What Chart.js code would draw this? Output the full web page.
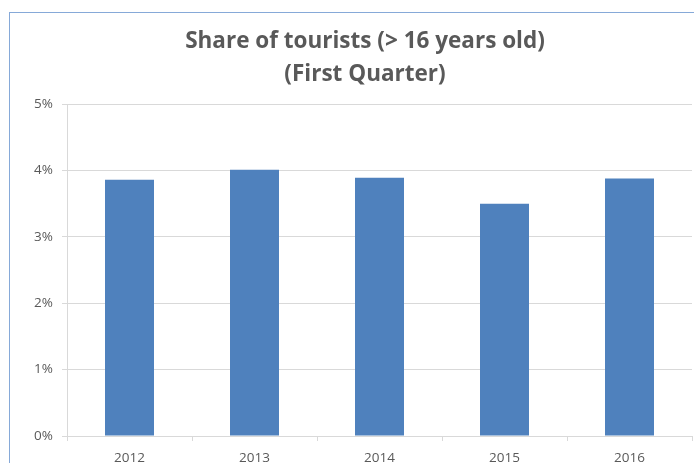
<!DOCTYPE html>
<html>
<head>
<meta charset="utf-8">
<script src="https://cdn.jsdelivr.net/npm/chart.js@4/dist/chart.umd.min.js"></script>
<style>
  html, body { margin:0; padding:0; background:#fff; overflow:hidden; }
  #wrap { position:relative; width:694px; height:463px; overflow:hidden; }
  #frame { position:absolute; left:9px; top:12px; width:720px; height:460px;
           border-left:1px solid #86A9D8; border-top:1px solid #86A9D8; }
  canvas { position:absolute; left:0; top:0; }
</style>
</head>
<body>
<div id="wrap">
  <div id="frame"></div>
  <!-- chart frame runs past the right edge of the window, so canvas is wider -->
  <canvas id="c" width="730" height="463"></canvas>
</div>
<script>
// Share of tourists chart
const years = ['2012', '2013', '2014', '2015', '2016'];
const shares = [3.86, 4.01, 3.89, 3.50, 3.88];
const yTicks = [0, 1, 2, 3, 4, 5];

const GRID = '#D9D9D9';
const TEXT = '#595959';
const FONT = "'Open Sans', 'Liberation Sans', sans-serif";

new Chart(document.getElementById('c').getContext('2d'), {
  type: 'bar',
  data: {
    labels: years,
    datasets: [{ data: shares, backgroundColor: '#4F81BD', borderWidth: 0,
                 barPercentage: 0.392, categoryPercentage: 1 }]
  },
  options: {
    responsive: false,
    animation: false,
    layout: { padding: 0 },
    plugins: {
      legend: { display: false },
      tooltip: { enabled: false },
      title: {
        display: true,
        text: ['Share of tourists (> 16 years old)', '(First Quarter)'],
        color: TEXT,
        font: { family: FONT, size: 22.5, weight: 'bold', lineHeight: 1.47 },
        padding: { top: 25, bottom: 13 }
      }
    },
    scales: {
      x: {
        grid: { display: true, drawOnChartArea: false, drawTicks: true, tickLength: 5, color: GRID, offset: true },
        border: { display: true, color: GRID },
        ticks: { color: TEXT, font: { family: FONT, size: 13.5 }, padding: 9, maxRotation: 0 },
        afterFit: s => { s.height = 27; }
      },
      y: {
        min: 0, max: 5,
        afterBuildTicks: s => { s.ticks = yTicks.map(v => ({ value: v })); },
        grid: { color: GRID, tickLength: 5 },
        border: { display: true, color: GRID },
        ticks: { color: TEXT, font: { family: FONT, size: 13.5 }, padding: 9,
                 callback: v => v + '%' },
        afterFit: s => { s.width = 67; }
      },
      // empty right-hand spacer so the plot ends where the window does
      pad: {
        type: 'linear', position: 'right', min: 0, max: 5,
        grid: { display: false, drawTicks: false },
        border: { display: false },
        ticks: { display: false },
        afterFit: s => { s.width = 38; }
      }
    }
  }
});
</script>
</body>
</html>
